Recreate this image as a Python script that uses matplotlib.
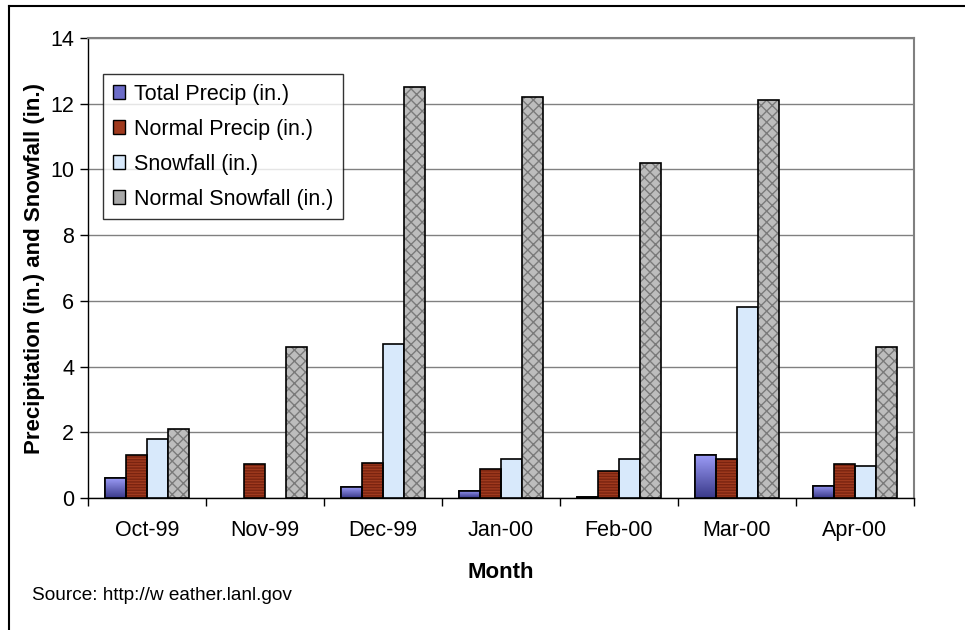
import matplotlib
matplotlib.use("Agg")
import matplotlib.pyplot as plt
import numpy as np
from matplotlib.lines import Line2D
from matplotlib.patches import Patch
from matplotlib.colors import LinearSegmentedColormap

plt.rcParams['font.family'] = ['Liberation Sans', 'DejaVu Sans']

months = ["Oct-99", "Nov-99", "Dec-99", "Jan-00", "Feb-00", "Mar-00", "Apr-00"]
total_precip = [0.60, 0.0, 0.33, 0.22, 0.03, 1.30, 0.37]
normal_precip = [1.30, 1.02, 1.06, 0.87, 0.82, 1.18, 1.03]
snowfall = [1.80, 0.0, 4.70, 1.19, 1.19, 5.80, 0.97]
normal_snowfall = [2.10, 4.60, 12.50, 12.20, 10.20, 12.10, 4.60]
series_names = ["Total Precip (in.)", "Normal Precip (in.)", "Snowfall (in.)", "Normal Snowfall (in.)"]
yticks = [0, 2, 4, 6, 8, 10, 12, 14]

fig = plt.figure(figsize=(9.65, 6.3), dpi=100)
ax = fig.add_axes([88/965, 1-498/630, (914-88)/965, 460/630])

x = np.arange(len(months))
w = 0.18
offs = [-1.5*w, -0.5*w, 0.5*w, 1.5*w]

def lws(vals):
    return [1.2 if v > 0 else 0 for v in vals]

# Total precip with vertical gradient
b1 = ax.bar(x + offs[0], total_precip, w, facecolor='#7b7bd8', edgecolor='black',
            linewidth=lws(total_precip), zorder=3)
grad = np.linspace(0, 1, 64).reshape(-1, 1)
cm = LinearSegmentedColormap.from_list('bl', ['#3a3a8a', '#9a9af5'])
for p in b1:
    if p.get_height() <= 0:
        continue
    bx, by = p.get_x(), p.get_y()
    im = ax.imshow(grad, extent=[bx, bx + p.get_width(), by, by + p.get_height()],
                   origin='lower', cmap=cm, aspect='auto', zorder=3.5)
    im.set_clip_path(p)
    ax.add_patch(plt.Rectangle((bx, by), p.get_width(), p.get_height(), fill=False,
                               edgecolor='black', linewidth=1.2, zorder=4))

# Normal precip with horizontal stripes
ax.bar(x + offs[1], normal_precip, w, facecolor='#a03a1e', edgecolor='#7a2410', linewidth=0, hatch='------', zorder=3)
ax.bar(x + offs[1], normal_precip, w, fill=False, edgecolor='black', linewidth=lws(normal_precip), zorder=4)

# Snowfall
ax.bar(x + offs[2], snowfall, w, facecolor='#d8e9fb', edgecolor='black', linewidth=lws(snowfall), zorder=3)

# Normal snowfall textured gray
ax.bar(x + offs[3], normal_snowfall, w, facecolor='#bdbdbd', edgecolor='#7a7a7a', linewidth=0, hatch='xxx', zorder=3)
ax.bar(x + offs[3], normal_snowfall, w, fill=False, edgecolor='black', linewidth=lws(normal_snowfall), zorder=4)

ax.set_xlim(-0.5, len(months) - 0.5)
ax.set_ylim(0, 14)
ax.set_yticks(yticks)
ax.set_yticklabels([str(t) for t in yticks], fontsize=15.5)
ax.set_xticks(x)
ax.set_xticklabels(months, fontsize=15.5)
ax.set_xticks(np.arange(-0.5, len(months)), minor=True)
ax.tick_params(axis='x', which='major', length=0, pad=16)
ax.tick_params(axis='x', which='minor', length=6, width=1, direction='out')
ax.tick_params(axis='y', length=6, width=1, direction='out', pad=4)
ax.yaxis.grid(True, color='#808080', linewidth=1, zorder=0)
ax.set_axisbelow(True)
for s in ['top', 'right']:
    ax.spines[s].set_color('#808080')
    ax.spines[s].set_linewidth(1.5)
for s in ['left', 'bottom']:
    ax.spines[s].set_color('black')
    ax.spines[s].set_linewidth(1)

ax.set_xlabel("Month", fontsize=16, fontweight='bold', labelpad=15)
ax.set_ylabel("Precipitation (in.) and Snowfall (in.)", fontsize=16, fontweight='bold', labelpad=4)

handles = [Patch(facecolor='#6c6cc8', edgecolor='black'),
           Patch(facecolor='#a03a1e', edgecolor='black'),
           Patch(facecolor='#d8e9fb', edgecolor='black'),
           Patch(facecolor='#a8a8a8', edgecolor='black')]
leg = ax.legend(handles, series_names, loc='upper left', bbox_to_anchor=(0.018, 0.922),
                borderaxespad=0, fontsize=15.5, frameon=True, fancybox=False,
                handlelength=0.6, handleheight=0.6, handletextpad=0.4, labelspacing=0.65,
                borderpad=0.45)
leg.get_frame().set_edgecolor('black')
leg.get_frame().set_linewidth(1)
leg.set_zorder(10)

fig.text(32/965, 1-595/630, "Source: http://w eather.lanl.gov", fontsize=13.7, va='center', ha='left')

# outer frame (left and top lines)
fig.add_artist(Line2D([9/965, 9/965], [0, 1-6/630], color='black', linewidth=1.5, transform=fig.transFigure))
fig.add_artist(Line2D([9/965, 1], [1-6/630, 1-6/630], color='black', linewidth=1.5, transform=fig.transFigure))

fig.savefig("out.png", dpi=100)
